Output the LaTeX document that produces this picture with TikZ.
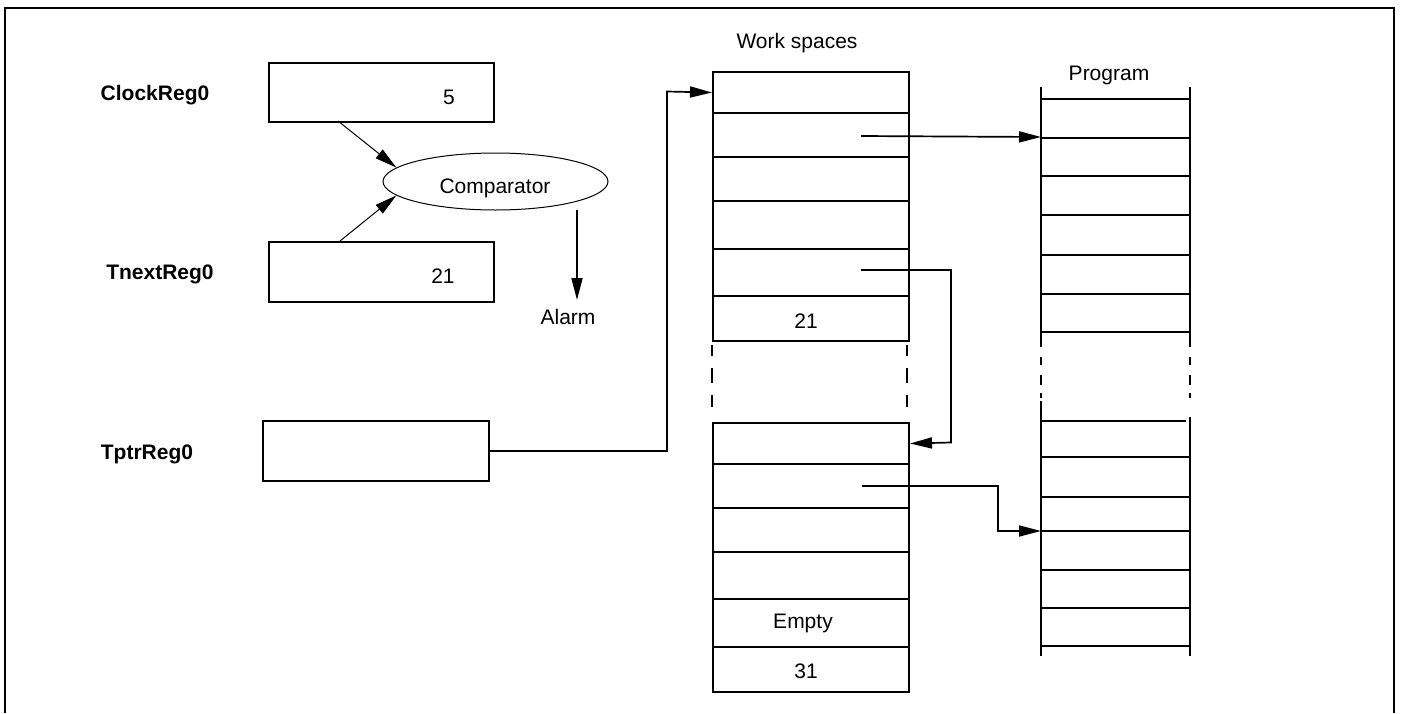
\documentclass[tikz,border=0pt]{standalone}
\usepackage{fontspec}
\setmainfont{Liberation Sans}
\usetikzlibrary{arrows.meta,shapes.geometric}
\begin{document}
\begin{tikzpicture}[x=0.5pt,y=-0.5pt,
  font=\fontsize{10.5}{12.6}\selectfont,
  reg/.style={draw,line width=1pt,inner sep=0,anchor=north west},
  cell/.style={draw,line width=1pt,inner sep=0,anchor=north west,minimum width=98pt},
  lbl/.style={anchor=base,inner sep=0},
  blbl/.style={anchor=base,inner sep=0,font=\fontsize{10.5}{12.6}\selectfont\bfseries},
  arr/.style={line width=0.85pt,-{Triangle[length=11pt,width=5.5pt]}},
  thinarr/.style={line width=0.5pt,-{Triangle[length=11pt,width=5.5pt]}},
  rail/.style={line width=1pt},
  dashrail/.style={line width=1pt},
]
\useasboundingbox (0,0) rectangle (1404,713);
% frame
\draw[line width=1pt] (5,713) -- (5,8) -- (1394,8) -- (1394,713);

% registers
\node[blbl] (lclk) at (155,100) {ClockReg0};
\node[blbl] (lnext) at (160,279) {TnextReg0};
\node[blbl] (lptr) at (147,459) {TptrReg0};
\node[reg,minimum width=112.5pt,minimum height=29.5pt] (clk) at (268,62) {};
\node[reg,minimum width=112.5pt,minimum height=30pt] (next) at (268,241) {};
\node[reg,minimum width=113pt,minimum height=30pt] (ptr) at (262,420) {};
\node[lbl] (v5) at (449,104) {5};
\node[lbl] (v21) at (443,283) {21};

% comparator
\node[draw,ellipse,line width=0.5pt,inner sep=0,minimum width=112.5pt,minimum height=28.5pt] (comp) at (495.5,181.5) {};
\node[lbl] (tcomp) at (495,193) {Comparator};
\coordinate (c1) at (338,121);
\coordinate (c2) at (340,241);
\draw[thinarr] (c1) -- (comp.172);
\draw[thinarr] (c2) -- (comp.188);
\node[lbl] (alarm) at (568,324) {Alarm};
\coordinate (al0) at (577,210);
\coordinate (al1) at (577,300);
\draw[arr] (al0) -- (al1);

% work spaces
\node[lbl] (tws) at (797,48) {Work spaces};
\foreach \i/\t/\h in {1/71/20.5,2/112/22,3/156/22,4/200/24,5/248/23.5,6/295/22.5}
  \node[cell,minimum height=\h pt] (ws\i) at (712,\t) {};
\node[lbl] (w21) at (806,328) {21};
\foreach \x in {712,907}
  \foreach \a/\b in {345/356,368/383,395/407}
    \draw[dashrail] (\x,\a) -- (\x,\b);
\foreach \i/\t/\h in {1/422/20.5,2/463/22,3/507/22,4/551/23.5,5/598/24,6/646/22.5}
  \node[cell,minimum height=\h pt] (lw\i) at (712,\t) {};
\node[lbl] (empty) at (803,628) {Empty};
\node[lbl] (w31) at (806,678) {31};

% program
\node[lbl] (tprog) at (1109,80) {Program};
\draw[rail] (1041,87) -- (1041,347);
\draw[rail] (1190,87) -- (1190,347);
\foreach \y in {99,138,176,215,255,294,332}
  \draw[rail] (1041,\y) -- (1190,\y);
\foreach \x in {1041,1190}
  \foreach \a/\b in {357/365,375/385,393/398}
    \draw[dashrail] (\x,\a) -- (\x,\b);
\draw[rail] (1041,401) -- (1041,656);
\draw[rail] (1190,417) -- (1190,656);
\draw[rail] (1041,421) -- (1186,421);
\foreach \y in {457,497,531,570,608,646}
  \draw[rail] (1041,\y) -- (1190,\y);

% connectors
\coordinate (bendA) at (667,91.5);
\draw[arr] (ptr.east) -| (bendA) -- (ws1.west);
\coordinate (sB) at (861,136);
\coordinate (pB) at (1041,137);
\draw[arr] (sB) -- (pB);
\coordinate (sC) at (861,270);
\coordinate (bendC) at (951,442.5);
\draw[arr] (sC) -| (bendC) -- (lw1.east);
\coordinate (sD) at (862,486);
\coordinate (bendD) at (998,531);
\coordinate (pD) at (1041,531);
\draw[arr] (sD) -| (bendD) -- (pD);
\end{tikzpicture}
\end{document}
